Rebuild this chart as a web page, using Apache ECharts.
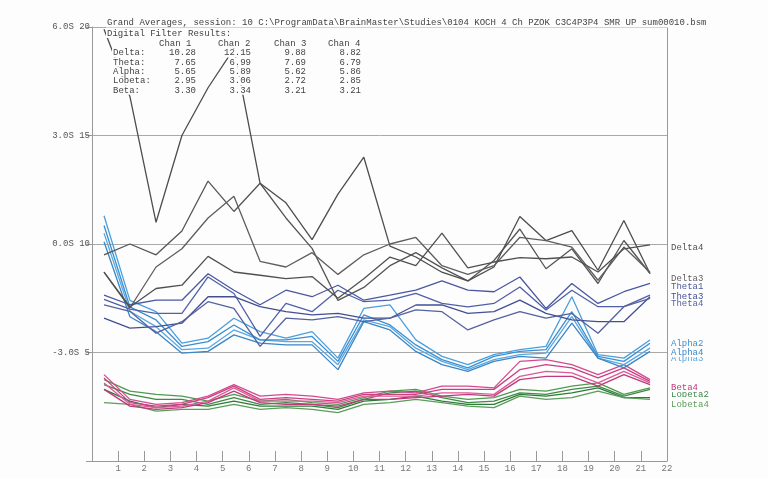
<!DOCTYPE html>
<html>
<head>
<meta charset="utf-8">
<title>Grand Averages</title>
<script src="https://cdn.jsdelivr.net/npm/echarts@6/dist/echarts.min.js"></script>
<style>
  html, body { margin: 0; padding: 0; background: #fdfdfd; }
  #main { width: 768px; height: 479px; }
</style>
</head>
<body>
<div id="main"></div>
<script>
// x position of each sample
var xPos = [0.46, 1.45, 2.45, 3.44, 4.44, 5.43, 6.43, 7.42, 8.42, 9.41, 10.4,
            11.4, 12.39, 13.39, 14.38, 15.38, 16.37, 17.37, 18.36, 19.36, 20.35, 21.35];

// y tick labels
var yTickValues = [5, 10, 15, 20];
var yTickLabels = ['-3.0S 5', '0.0S 10', '3.0S 15', '6.0S 20'];

// table text
var headerLine1 = 'Grand Averages, session: 10 C:\\ProgramData\\BrainMaster\\Studies\\0104 KOCH 4 Ch PZOK C3C4P3P4 SMR UP sum00010.bsm';
var headerLine2 = 'Digital Filter Results:';
var chanNames = ['Chan 1', 'Chan 2', 'Chan 3', 'Chan 4'];
var bandNames = ['Delta:', 'Theta:', 'Alpha:', 'Lobeta:', 'Beta:'];
var avgChan1 = [10.28, 7.65, 5.65, 2.95, 3.30];
var avgChan2 = [12.15, 6.99, 5.89, 3.06, 3.34];
var avgChan3 = [9.88, 7.69, 5.62, 2.72, 3.21];
var avgChan4 = [8.82, 6.79, 5.86, 2.85, 3.21];

// series values
var delta1 = [9.5, 10.0, 9.5, 10.6, 12.9, 11.5, 12.8, 11.2, 9.8, 7.4, 8.0, 9.0, 9.6, 8.9, 8.3, 9.24, 10.69, 8.86, 9.78, 8.18, 10.16, 8.64];
var delta2 = [19.9, 16.8, 11.0, 15.0, 17.2, 19.0, 12.8, 11.9, 10.2, 12.3, 14.0, 9.9, 9.4, 8.7, 8.3, 8.94, 11.27, 10.16, 10.62, 8.79, 11.08, 8.64];
var delta3 = [8.7, 7.05, 8.94, 9.78, 11.2, 12.2, 9.2, 8.94, 9.6, 8.6, 9.5, 10.0, 10.3, 9.0, 8.6, 9.0, 10.31, 10.16, 9.86, 8.33, 9.86, 8.7];
var delta4 = [8.7, 7.1, 7.95, 8.1, 9.43, 8.71, 8.56, 8.4, 8.5, 7.5, 8.4, 9.4, 9.0, 10.5, 8.9, 9.17, 9.37, 9.32, 9.4, 8.71, 9.78, 9.96];

var theta1 = [7.64, 7.2, 7.41, 7.41, 8.63, 7.87, 7.2, 7.87, 7.57, 8.1, 7.41, 7.64, 7.87, 8.3, 7.87, 7.8, 8.48, 7.03, 8.18, 7.26, 7.8, 8.18];
var theta2 = [7.45, 7.0, 6.8, 6.8, 8.48, 7.72, 5.74, 7.26, 6.88, 7.87, 7.34, 7.41, 7.72, 7.26, 7.1, 7.26, 8.02, 6.96, 7.87, 7.11, 7.11, 7.64];
var theta3 = [6.58, 6.12, 6.19, 6.35, 7.57, 7.57, 7.11, 6.88, 6.73, 6.8, 6.58, 6.58, 7.19, 7.19, 6.8, 6.88, 7.41, 6.8, 6.5, 6.42, 6.42, 7.57];
var theta4 = [7.19, 6.9, 5.89, 6.42, 7.34, 7.03, 5.28, 6.58, 6.5, 6.65, 6.42, 6.58, 6.96, 6.88, 6.04, 6.5, 6.88, 6.58, 6.8, 5.89, 7.11, 7.49];

var alpha1 = [11.3, 7.4, 6.88, 5.43, 5.66, 6.58, 5.96, 5.66, 5.96, 4.74, 7.03, 7.19, 5.58, 4.82, 4.44, 4.9, 5.13, 5.28, 7.57, 4.9, 4.74, 5.58];
var alpha2 = [10.85, 7.1, 6.5, 5.28, 5.5, 6.27, 5.58, 5.58, 5.74, 4.59, 6.73, 6.27, 5.35, 4.67, 4.29, 4.82, 5.05, 5.13, 6.88, 4.82, 4.59, 5.43];
var alpha3 = [10.5, 6.9, 6.19, 5.13, 5.2, 6.04, 5.58, 5.5, 5.5, 4.44, 6.5, 6.19, 5.2, 4.59, 4.21, 4.67, 4.9, 4.97, 6.65, 4.74, 4.44, 5.2];
var alpha4 = [10.1, 6.65, 5.96, 4.97, 5.05, 5.81, 5.43, 5.35, 5.35, 4.21, 6.42, 6.04, 5.05, 4.44, 4.13, 4.59, 4.82, 4.74, 6.35, 4.74, 4.29, 5.05];

var beta1 = [3.98, 2.84, 2.61, 2.69, 2.99, 3.52, 2.99, 3.07, 2.99, 2.84, 3.14, 3.22, 3.14, 3.45, 3.45, 3.37, 4.59, 4.67, 4.44, 3.98, 4.44, 3.75];
var beta2 = [3.83, 2.69, 2.53, 2.61, 2.92, 3.45, 2.84, 2.92, 2.84, 2.76, 3.07, 3.07, 3.07, 3.3, 3.3, 3.3, 4.21, 4.44, 4.29, 3.83, 4.29, 3.67];
var beta3 = [3.6, 2.61, 2.46, 2.53, 2.76, 3.37, 2.76, 2.76, 2.76, 2.69, 2.99, 2.99, 2.99, 3.14, 3.14, 3.07, 3.9, 4.13, 4.06, 3.6, 4.13, 3.6];
var beta4 = [3.3, 2.53, 2.38, 2.46, 2.69, 3.22, 2.69, 2.61, 2.61, 2.53, 2.84, 2.84, 2.92, 2.99, 3.07, 2.99, 3.75, 3.9, 3.9, 3.45, 3.98, 3.52];

var lobeta1 = [3.75, 3.22, 3.07, 2.99, 2.76, 3.07, 2.76, 2.84, 2.69, 2.61, 2.92, 3.22, 3.3, 2.99, 2.84, 2.92, 3.3, 3.22, 3.45, 3.6, 3.07, 3.37];
var lobeta2 = [3.52, 3.07, 2.84, 2.84, 2.61, 2.92, 2.61, 2.69, 2.61, 2.46, 2.84, 3.14, 3.22, 2.92, 2.69, 2.76, 3.14, 3.07, 3.3, 3.45, 2.99, 3.3];
var lobeta3 = [3.3, 2.76, 2.46, 2.61, 2.53, 2.76, 2.53, 2.53, 2.53, 2.38, 2.76, 2.84, 2.99, 2.76, 2.61, 2.61, 3.07, 2.99, 3.14, 3.37, 2.92, 2.92];
var lobeta4 = [2.69, 2.61, 2.3, 2.38, 2.38, 2.61, 2.38, 2.46, 2.38, 2.23, 2.61, 2.69, 2.84, 2.69, 2.53, 2.46, 2.99, 2.84, 2.92, 3.22, 2.92, 2.84];

var mono = '"Liberation Mono", "DejaVu Sans Mono", monospace';

// draw order: lobeta, beta, alpha, theta, delta
var lines = [
    ['Lobeta1', lobeta1, '#4f9a4f'], ['Lobeta2', lobeta2, '#3d8a45'],
    ['Lobeta3', lobeta3, '#2f7a3a'], ['Lobeta4', lobeta4, '#5a9e5a'],
    ['Beta1', beta1, '#d14b8f'], ['Beta2', beta2, '#c94082'],
    ['Beta3', beta3, '#dd5a9a'], ['Beta4', beta4, '#c0397a'],
    ['Alpha1', alpha1, '#4a9fdc'], ['Alpha3', alpha3, '#5aa8e0'],
    ['Alpha2', alpha2, '#3b8fd0'], ['Alpha4', alpha4, '#3a86c8'],
    ['Theta2', theta2, '#5060a8'], ['Theta1', theta1, '#4a58a0'],
    ['Theta3', theta3, '#424f95'], ['Theta4', theta4, '#56629f'],
    ['Delta1', delta1, '#555555'], ['Delta2', delta2, '#4d4d4d'],
    ['Delta3', delta3, '#5e5e5e'], ['Delta4', delta4, '#505050']
];

// right-hand names that are visible, with their vertical nudge
var endNames = {
    Delta4: 3, Delta3: 6, Theta1: 3, Theta3: 0, Theta4: 5,
    Alpha2: 0, Alpha4: 1, Alpha3: 10, Beta4: 3, Lobeta2: 5, Lobeta4: 5
};

var series = lines.map(function (l) {
    var s = {
        name: l[0],
        type: 'line',
        data: l[1].map(function (v, i) { return [xPos[i], v]; }),
        symbol: 'none',
        silent: true,
        lineStyle: { color: l[2], width: 1.3 },
        itemStyle: { color: l[2] }
    };
    if (l[0] in endNames) {
        s.endLabel = {
            show: true,
            formatter: l[0],
            distance: 20,
            offset: [0, endNames[l[0]]],
            fontFamily: mono,
            fontSize: 9,
            color: l[2],
            backgroundColor: '#fdfdfd',
            padding: [0, 1]
        };
    }
    return s;
});

// header text block
var textFill = '#444';
var graphics = [];
function addText(txt, x, y, align) {
    graphics.push({
        type: 'text', x: x, y: y, z: 100,
        style: {
            text: txt, fill: textFill, font: '9px ' + mono,
            align: align || 'left', verticalAlign: 'middle',
            backgroundColor: '#fdfdfd', padding: [0, 1]
        }
    });
}
addText(headerLine1, 106, 23);
addText(headerLine2, 106, 33.5);
var chanX = [158, 217, 273, 327];
var numX = [197, 252, 307, 362];
chanNames.forEach(function (c, k) { addText(c, chanX[k], 43.5); });
var avgCols = [avgChan1, avgChan2, avgChan3, avgChan4];
bandNames.forEach(function (b, r) {
    var y = 53 + r * 9.3;
    addText(b, 112, y);
    avgCols.forEach(function (col, k) { addText(col[r].toFixed(2), numX[k], y, 'right'); });
});

var chart = echarts.init(document.getElementById('main'));
chart.setOption({
    backgroundColor: '#fdfdfd',
    animation: false,
    grid: { left: 92, right: 101, top: 27, bottom: 18 },
    xAxis: {
        type: 'value', min: 0, max: 22, interval: 1,
        axisLine: { show: true, lineStyle: { color: '#999' } },
        axisTick: { show: true, inside: true, length: 10, lineStyle: { color: '#999' } },
        axisLabel: {
            color: '#777', fontFamily: mono, fontSize: 9, margin: 3,
            formatter: function (v) { return v === 0 ? '' : String(v); }
        },
        splitLine: { show: false }
    },
    yAxis: [{
        type: 'value', min: 0, max: 20, interval: 5,
        axisLine: { show: true, lineStyle: { color: '#999' } },
        axisTick: { show: true, length: 6, lineStyle: { color: '#999' } },
        axisLabel: {
            color: '#555', fontFamily: mono, fontSize: 9, margin: 2,
            formatter: function (v) {
                var k = yTickValues.indexOf(v);
                return k < 0 ? '' : yTickLabels[k];
            }
        },
        splitLine: { show: true, lineStyle: { color: '#aaa', width: 1 } }
    }, {
        type: 'value', min: 0, max: 20, interval: 5, position: 'right',
        axisLine: { show: true, lineStyle: { color: '#999' } },
        axisTick: { show: false }, axisLabel: { show: false },
        splitLine: { show: false }
    }],
    graphic: graphics,
    series: series
});
</script>
</body>
</html>
